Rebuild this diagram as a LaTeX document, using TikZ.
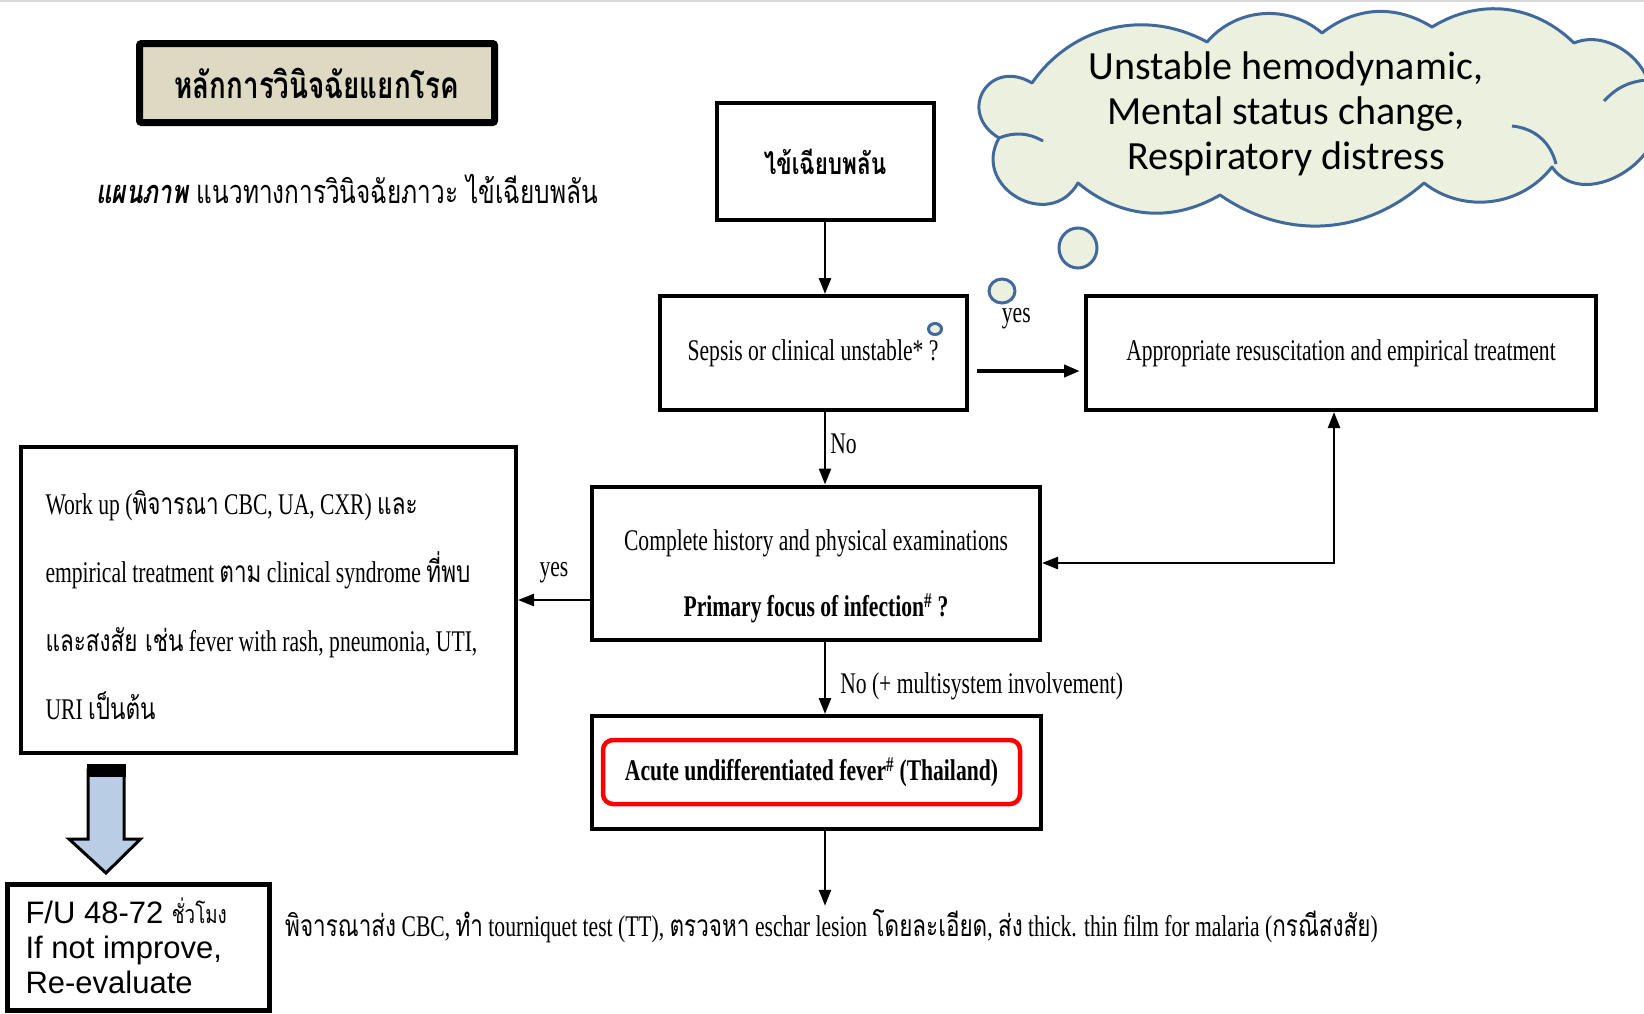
\documentclass[tikz,border=0pt]{standalone}
\usepackage{fontspec}
\setmainfont{Liberation Serif}[FakeStretch=0.72]
\newfontfamily\thaifont{Loma}[Script=Thai,FakeStretch=0.75]
\newfontfamily\arialfont{Liberation Sans}
\newfontfamily\calfont{Carlito}
\usetikzlibrary{arrows.meta,calc}
\newcommand{\thai}[1]{{\thaifont #1}}
\definecolor{cloudfill}{HTML}{EBF1DE}
\definecolor{cloudline}{HTML}{41699C}
\definecolor{titlefill}{HTML}{DDD9C3}
\definecolor{bluearrow}{HTML}{B9CDE5}

\begin{document}
\begin{tikzpicture}[x=1pt,y=-1pt,
  font=\fontsize{30}{36}\selectfont,
  box/.style={draw,line width=4pt,inner sep=0pt,align=center},
  arr/.style={line width=2.5pt,-{Triangle[length=16pt,width=12pt]}},
  dblarr/.style={line width=2.5pt,{Triangle[length=16pt,width=12pt]}-{Triangle[length=16pt,width=12pt]}},
  lbl/.style={inner sep=2pt},
  bubble/.style={draw=cloudline,fill=cloudfill,line width=3pt}]
\useasboundingbox (0,0) rectangle (1644,1013);
\clip (0,0) rectangle (1644,1013);
\draw[gray!30,line width=2pt] (0,1) -- (1644,1);

% title and heading
\node[box,line width=7pt,rounded corners=2pt,fill=titlefill,minimum width=355pt,minimum height=79pt] (title) at (317,83)
  {\thaifont\bfseries\fontsize{37}{40}\selectfont หลักการวินิจฉัยแยกโรค};
\node (heading) at (347,189)
  {\thaifont\fontsize{32.5}{38}\selectfont{\bfseries\itshape แผนภาพ} แนวทางการวินิจฉัยภาวะ ไข้เฉียบพลัน};

% thought cloud
\filldraw[bubble,line join=round]
  (1032,83) to[bend left=42] (1207,42) to[bend left=45] (1322,33) to[bend left=35] (1432,27)
  to[bend left=38] (1574,43) to[bend left=60] (1650,100) to[bend left=90,looseness=1.3] (1552,167)
  to[bend left=45] (1424,183) to[bend left=38] (1220,195) to[bend left=35] (1078,183)
  to[bend left=90,looseness=1.6] (999,138) to[bend left=90,looseness=2] (1032,83) -- cycle;
\draw[bubble] (999,138) to[bend left=25] (1043,141);
\draw[bubble] (1512,126) to[bend left=35] (1556,164);
\draw[bubble] (1604,101) to[bend left=20] (1646,80);
\node[align=center,font=\calfont\fontsize{40}{45}\selectfont] (cloudtxt) at (1286,114)
  {Unstable hemodynamic,\\Mental status change,\\Respiratory distress};
\draw[bubble] (1078,248) ellipse [x radius=19pt,y radius=20pt];
\draw[bubble] (1002,291) ellipse [x radius=13pt,y radius=12pt];
\draw[bubble] (935,329) ellipse [x radius=6.5pt,y radius=5.5pt];

% main flow
\node[box,minimum width=217pt,minimum height=117pt] (fever) at (825,161.5)
  {\thaifont\bfseries ไข้เฉียบพลัน};
\node[box,minimum width=307pt,minimum height=114pt] (sepsis) at (813,353)
  {Sepsis or clinical unstable* ?};
\node[box,minimum width=510pt,minimum height=114pt] (appro) at (1341,353)
  {Appropriate resuscitation and empirical treatment};
\node[box,minimum width=448pt,minimum height=153pt] (hx) at (816,563) {};
\node[align=center,font=\fontsize{30}{66}\selectfont] (hxtxt) at (816,576)
  {Complete history and physical examinations\\
   \textbf{Primary focus of infection\textsuperscript{\#} ?}};
\node[box,minimum width=495pt,minimum height=306pt] (work) at (268.5,600) {};
\node[align=left,anchor=west,font=\fontsize{30}{68.5}\selectfont] (worktxt) at (42,605)
  {Work up (\thai{พิจารณา} CBC, UA, CXR) \thai{และ}\\
   empirical treatment \thai{ตาม} clinical syndrome \thai{ที่พบ}\\
   \thai{และสงสัย เช่น} fever with rash, pneumonia, UTI,\\
   URI \thai{เป็นต้น}};
\node[box,minimum width=449pt,minimum height=113pt] (afi) at (816.5,772.5) {};
\node[draw=red,line width=4.5pt,rounded corners=10pt,minimum width=417pt,minimum height=64pt,
  font=\bfseries\fontsize{30}{36}\selectfont] (afired) at (811.5,772)
  {Acute undifferentiated fever\textsuperscript{\#} (Thailand)};
\node (bottomtxt) at (831.5,926)
  {\thai{พิจารณาส่ง} CBC, \thai{ทำ} tourniquet test (TT), \thai{ตรวจหา} eschar lesion \thai{โดยละเอียด}, \thai{ส่ง} thick. thin film for malaria (\thai{กรณีสงสัย})};

% follow up
\node[draw,line width=5pt,minimum width=262pt,minimum height=126pt] (fu) at (138,947) {};
\node[align=left,anchor=west,font=\arialfont\fontsize{31}{35}\selectfont] (futxt) at (22,946)
  {F/U 48-72 {\thaifont\fontsize{25}{28}\selectfont ชั่วโมง}\\If not improve,\\Re-evaluate};
\filldraw[fill=bluearrow,line width=3pt] (88,770) -- (88,839) -- (69,839) -- (106,873)
  -- (140.5,839) -- (124,839) -- (124,770) -- cycle;
\fill (86.5,764) rectangle (125.5,777);

% connectors
\draw[arr] (fever.south) -- (fever.south |- sepsis.north);
\draw[arr] (sepsis.south -| fever.south) -- (hx.north -| fever.south)
  node[lbl,midway,right,xshift=2pt,yshift=4pt] {No};
\draw[arr] (hx.south -| fever.south) -- (afi.north -| fever.south)
  node[lbl,midway,right,xshift=12pt,yshift=-9pt] {No (+ multisystem involvement)};
\draw[arr] (afi.south -| fever.south) -- (bottomtxt.north -| fever.south);
\draw[arr] (hx.west |- work.east) -- (work.east)
  node[lbl,midway,above,yshift=14pt] {yes};
\draw[arr,line width=4pt] ($(sepsis.east)+(8,18)$) -- ($(appro.west)+(-4,18)$)
  node[lbl,midway,above,yshift=38pt,xshift=-12pt] {yes};
\draw[dblarr] (hx.east) -| ($(appro.south)+(-7,0)$);
\end{tikzpicture}
\end{document}
